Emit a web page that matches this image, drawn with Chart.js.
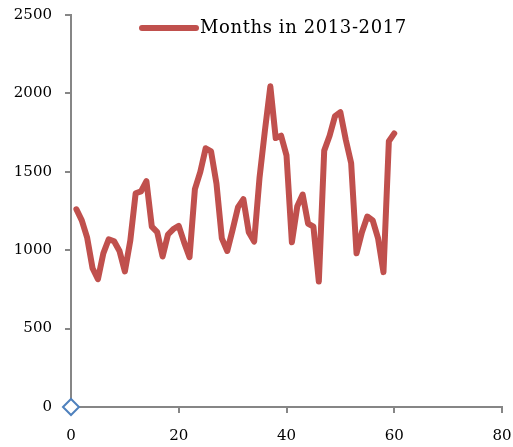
<!DOCTYPE html>
<html>
<head>
<meta charset="utf-8">
<script src="https://cdn.jsdelivr.net/npm/chart.js@4"></script>
<style>
  html, body { margin: 0; padding: 0; background: #fff; }
  #wrap { width: 513px; height: 447px; }
</style>
</head>
<body>
<div id="wrap"><canvas id="grafico"></canvas></div>
<script>
// dados
const meses = [1, 2, 3, 4, 5, 6, 7, 8, 9, 10, 11, 12, 13, 14, 15, 16, 17, 18, 19, 20,
  21, 22, 23, 24, 25, 26, 27, 28, 29, 30, 31, 32, 33, 34, 35, 36, 37, 38, 39, 40,
  41, 42, 43, 44, 45, 46, 47, 48, 49, 50, 51, 52, 53, 54, 55, 56, 57, 58, 59, 60];
const valores = [1261, 1190, 1080, 885, 815, 980, 1070, 1057, 995, 865,
  1060, 1363, 1375, 1440, 1150, 1115, 960, 1100, 1135, 1155,
  1050, 955, 1390, 1500, 1650, 1630, 1425, 1075, 995, 1130,
  1275, 1325, 1115, 1055, 1465, 1765, 2045, 1715, 1730, 1605,
  1050, 1280, 1355, 1170, 1150, 800, 1635, 1730, 1855, 1880,
  1705, 1555, 980, 1115, 1215, 1190, 1075, 860, 1695, 1745];
const origem = [{ x: 0, y: 0 }];
const ticksX = [0, 20, 40, 60, 80];
const ticksY = [0, 500, 1000, 1500, 2000, 2500];
const nomeSerie = 'Months in 2013-2017';

const fonte = { family: 'DejaVu Serif', size: 15 };

// legenda desenhada dentro da area do grafico (como no Excel)
const legendaPlugin = {
  id: 'legendaInterna',
  afterDraw(chart) {
    const c = chart.ctx;
    c.save();
    c.strokeStyle = '#C0504D';
    c.lineWidth = 6;
    c.lineCap = 'round';
    c.beginPath();
    c.moveTo(142, 28);
    c.lineTo(196, 28);
    c.stroke();
    c.fillStyle = '#000';
    c.font = '18px "DejaVu Serif"';
    c.letterSpacing = '0.6px';
    c.textBaseline = 'middle';
    c.fillText(chart.data.datasets[0].label, 200, 28);
    c.restore();
  }
};

new Chart(document.getElementById('grafico'), {
  type: 'line',
  data: {
    datasets: [{
      label: nomeSerie,
      data: meses.map((m, i) => ({ x: m, y: valores[i] })),
      borderColor: '#C0504D',
      borderWidth: 6,
      pointRadius: 0,
      tension: 0,
      borderJoinStyle: 'round',
      borderCapStyle: 'round'
    }, {
      label: 'origem',
      data: origem,
      showLine: false,
      pointStyle: 'rectRot',
      pointRadius: 8,
      pointBorderColor: '#4F81BD',
      pointBackgroundColor: '#fff',
      pointBorderWidth: 2,
      clip: false
    }]
  },
  options: {
    responsive: true,
    maintainAspectRatio: false,
    animation: false,
    layout: { autoPadding: false, padding: { top: 15, right: 11, left: 0, bottom: 0 } },
    plugins: { legend: { display: false }, tooltip: { enabled: false } },
    scales: {
      x: {
        type: 'linear',
        min: 0,
        max: 80,
        afterBuildTicks: (s) => { s.ticks = ticksX.map(v => ({ value: v })); },
        afterFit: (s) => { s.height = 40; s.paddingLeft = 0; s.paddingRight = 0; },
        border: { color: '#868686', width: 2 },
        grid: { drawOnChartArea: false, color: '#868686', tickLength: 6, lineWidth: 2 },
        ticks: { color: '#000', font: fonte, padding: 14, maxRotation: 0, callback: (v) => String(v) }
      },
      y: {
        min: 0,
        max: 2500,
        afterBuildTicks: (s) => { s.ticks = ticksY.map(v => ({ value: v })); },
        afterFit: (s) => { s.width = 71; s.paddingTop = 0; s.paddingBottom = 0; },
        border: { color: '#868686', width: 2 },
        grid: { drawOnChartArea: false, color: '#868686', tickLength: 6, lineWidth: 2 },
        ticks: { color: '#000', font: fonte, padding: 13, callback: (v) => String(v) }
      }
    }
  },
  plugins: [legendaPlugin]
});
</script>
</body>
</html>
